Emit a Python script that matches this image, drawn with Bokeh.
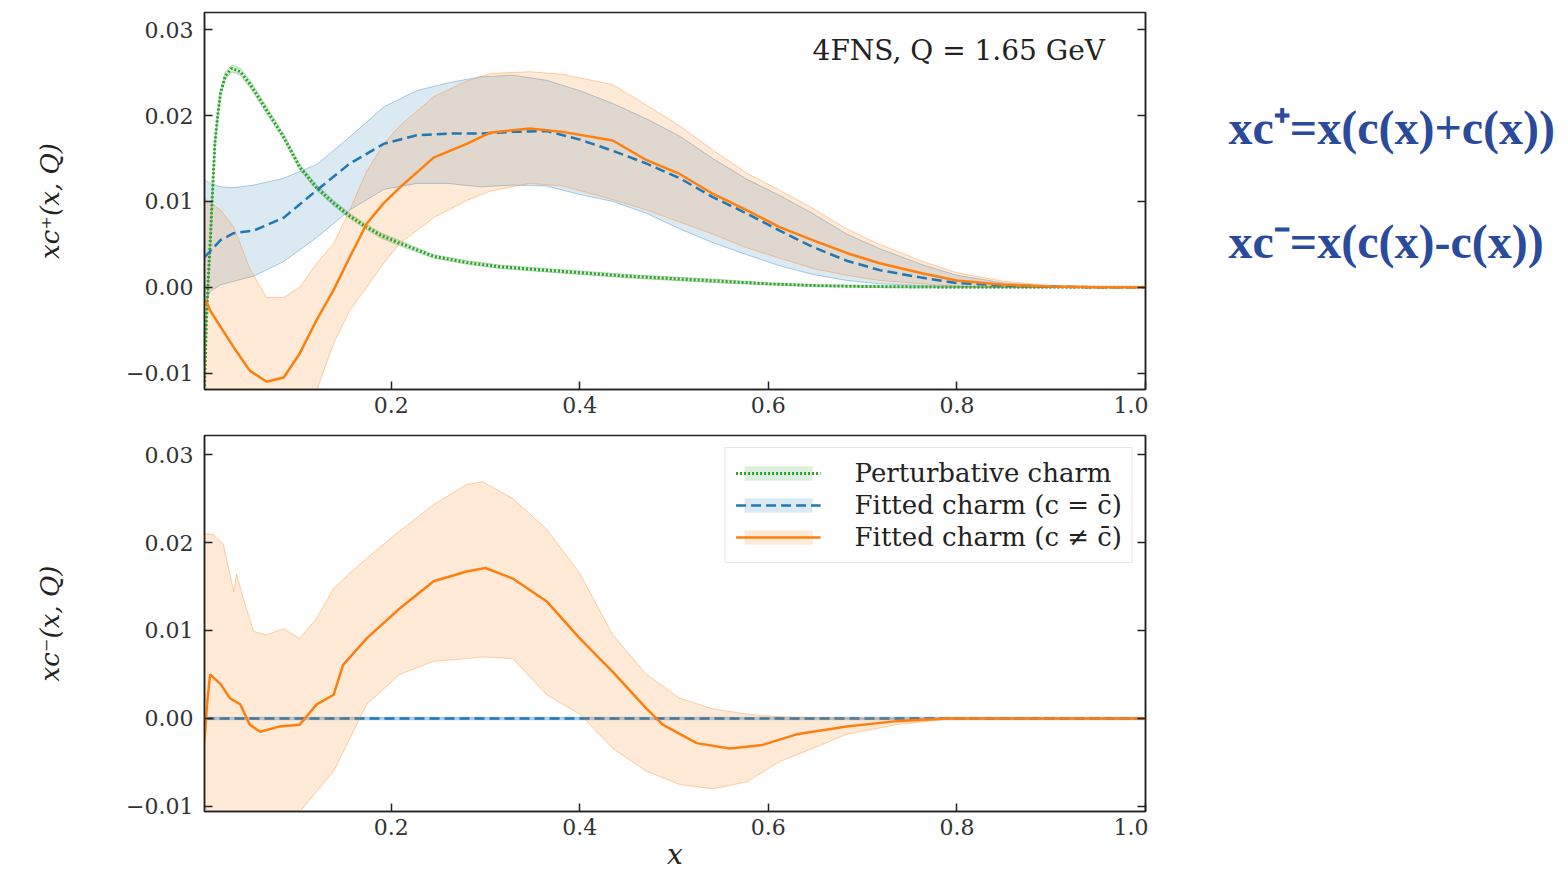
from bokeh.plotting import figure
from bokeh.models import (Range1d, LinearAxis, FixedTicker, CustomJSTickFormatter,
                          Legend, LegendItem, Label)
from bokeh.layouts import column, row
from bokeh.embed import file_html
from bokeh.resources import INLINE
from bokeh.core.properties import value

# ---------------- data ----------------
x_ticks = [0.2, 0.4, 0.6, 0.8, 1.0]
y_ticks = [-0.01, 0.0, 0.01, 0.02, 0.03]

# top panel: xc+(x,Q)
# perturbative charm
x_pc = [0.002, 0.004, 0.006, 0.008, 0.010, 0.013, 0.016, 0.019, 0.024, 0.031, 0.040, 0.050,
        0.060, 0.068, 0.086, 0.103, 0.121, 0.139, 0.156, 0.174, 0.19, 0.21, 0.245, 0.28,
        0.315, 0.35, 0.40, 0.45, 0.50, 0.55, 0.60, 0.65, 0.70, 0.75, 0.80, 0.90, 1.0]
pc_c = [-0.0115, -0.0040, 0.0010, 0.0050, 0.0100, 0.0167, 0.0200, 0.0226, 0.0246, 0.0255,
        0.0251, 0.0237, 0.0220, 0.0206, 0.0175, 0.0140, 0.0116, 0.0098, 0.0083, 0.0070,
        0.0060, 0.0051, 0.0036, 0.0029, 0.0024, 0.0021, 0.0017, 0.0013, 0.0010, 0.0007,
        0.0004, 0.0002, 0.0001, 0.00005, 0.0, 0.0, 0.0]
pc_err = [0.0004, 0.0004, 0.0004, 0.0004, 0.0004, 0.0004, 0.0004, 0.0004, 0.0004, 0.0004,
          0.0004, 0.0004, 0.0004, 0.0004, 0.0003, 0.0003, 0.0003, 0.0003, 0.0003, 0.0003,
          0.0003, 0.0003, 0.0002, 0.0002, 0.0002, 0.0002, 0.0002, 0.0002, 0.0002, 0.0002,
          0.0001, 0.0001, 0.0001, 0.0001, 0.0, 0.0, 0.0]

# fitted charm (c = cbar)
x_fc = [0.002, 0.008, 0.019, 0.033, 0.054, 0.086, 0.121, 0.156, 0.192, 0.227, 0.26, 0.294,
        0.329, 0.365, 0.40, 0.435, 0.471, 0.506, 0.541, 0.577, 0.612, 0.647, 0.683, 0.718,
        0.764, 0.80, 0.85, 0.90, 0.95, 1.0]
fc_c = [0.0035, 0.0042, 0.0055, 0.0063, 0.0066, 0.0081, 0.0113, 0.0144, 0.0167, 0.0177,
        0.0179, 0.0179, 0.0181, 0.0182, 0.0172, 0.0159, 0.0144, 0.0127, 0.0105, 0.0086,
        0.0066, 0.0047, 0.0031, 0.0020, 0.0011, 0.0005, 0.0002, 0.0001, 0.0, 0.0]
fc_hi = [0.0125, 0.0121, 0.0117, 0.0116, 0.0119, 0.0127, 0.0143, 0.0175, 0.0210, 0.0229,
         0.0238, 0.0245, 0.0247, 0.0241, 0.0229, 0.0214, 0.0196, 0.0176, 0.0150, 0.0126,
         0.0107, 0.0086, 0.0062, 0.0045, 0.0026, 0.0014, 0.0005, 0.0001, 0.0, 0.0]
fc_lo = [-0.0020, -0.0005, 0.0003, 0.0007, 0.0013, 0.0030, 0.0058, 0.0090, 0.0114, 0.0121,
         0.0121, 0.0117, 0.0119, 0.0118, 0.0108, 0.0100, 0.0086, 0.0068, 0.0052, 0.0038,
         0.0025, 0.0015, 0.0008, 0.0004, 0.0002, 0.0001, 0.0, 0.0, 0.0, 0.0]

# fitted charm (c != cbar)
x_fa = [0.002, 0.005, 0.008, 0.019, 0.033, 0.05, 0.068, 0.086, 0.103, 0.121, 0.139, 0.156,
        0.174, 0.192, 0.209, 0.245, 0.28, 0.305, 0.347, 0.382, 0.435, 0.471, 0.506, 0.541,
        0.577, 0.612, 0.647, 0.683, 0.718, 0.764, 0.80, 0.85, 0.90, 0.95, 1.0]
fa_c = [-0.0015, -0.0019, -0.0027, -0.0046, -0.0070, -0.0097, -0.0110, -0.0105, -0.0077,
        -0.0038, -0.0003, 0.0035, 0.0074, 0.0098, 0.0116, 0.0151, 0.0167, 0.0180, 0.0185,
        0.0181, 0.0171, 0.0148, 0.0132, 0.0109, 0.0090, 0.0070, 0.0055, 0.0040, 0.0028,
        0.0016, 0.0008, 0.0003, 0.0001, 0.0, 0.0]
fa_hi = [0.0105, 0.0100, 0.0099, 0.0090, 0.0070, 0.0022, -0.0012, -0.0012, 0.0000, 0.0028,
         0.0051, 0.0090, 0.0135, 0.0167, 0.0188, 0.0222, 0.0240, 0.0249, 0.0251, 0.0248,
         0.0236, 0.0212, 0.0188, 0.0160, 0.0133, 0.0113, 0.0092, 0.0068, 0.0050, 0.0030,
         0.0017, 0.0007, 0.0002, 0.0, 0.0]
fa_lo = [-0.02, -0.02, -0.02, -0.02, -0.02, -0.02, -0.02, -0.019, -0.016, -0.0120, -0.0065,
         -0.0027, 0.0000, 0.0028, 0.0051, 0.0081, 0.0101, 0.0112, 0.0121, 0.0118, 0.0102,
         0.0090, 0.0076, 0.0062, 0.0046, 0.0034, 0.0022, 0.0014, 0.0008, 0.0004, 0.0001,
         0.0, 0.0, 0.0, 0.0]

# bottom panel: xc-(x,Q)
x_zero = [0.002, 1.0]
zero_c = [0.0, 0.0]

x_fm = [0.002, 0.005, 0.008, 0.013, 0.019, 0.029, 0.040, 0.05, 0.061, 0.082, 0.103, 0.121,
        0.139, 0.149, 0.174, 0.209, 0.245, 0.28, 0.30, 0.329, 0.365, 0.40, 0.435, 0.471,
        0.488, 0.524, 0.559, 0.594, 0.63, 0.683, 0.736, 0.789, 0.85, 0.9, 1.0]
fm_c = [-0.0026, 0.0020, 0.0050, 0.0045, 0.0039, 0.0023, 0.0016, -0.0007, -0.0015, -0.0009,
        -0.0007, 0.0016, 0.0027, 0.0061, 0.0091, 0.0125, 0.0156, 0.0167, 0.0171, 0.0159,
        0.0133, 0.0091, 0.0053, 0.0011, -0.0007, -0.0028, -0.0034, -0.0030, -0.0018,
        -0.0009, -0.0003, 0.0, 0.0, 0.0, 0.0]
x_fmb = [0.002, 0.011, 0.022, 0.033, 0.036, 0.043, 0.054, 0.068, 0.086, 0.103, 0.121, 0.139,
         0.156, 0.174, 0.209, 0.245, 0.28, 0.297, 0.329, 0.365, 0.40, 0.435, 0.471, 0.506,
         0.541, 0.577, 0.612, 0.647, 0.683, 0.736, 0.789, 0.85, 1.0]
fm_hi = [0.0210, 0.0209, 0.0198, 0.0144, 0.0164, 0.0137, 0.0099, 0.0095, 0.0102, 0.0091,
         0.0114, 0.0148, 0.0165, 0.0182, 0.0213, 0.0243, 0.0266, 0.0269, 0.0250, 0.0215,
         0.0165, 0.0095, 0.0050, 0.0023, 0.0011, 0.0005, 0.0002, 0.0001, 0.0, 0.0, 0.0,
         0.0, 0.0]
fm_lo = [-0.02, -0.02, -0.02, -0.02, -0.02, -0.02, -0.02, -0.018, -0.015, -0.0106, -0.0083,
         -0.0060, -0.0023, 0.0016, 0.0050, 0.0065, 0.0068, 0.0070, 0.0068, 0.0027, 0.0005,
         -0.0034, -0.0060, -0.0075, -0.0080, -0.0072, -0.0049, -0.0034, -0.0018, -0.0007,
         -0.0001, 0.0, 0.0]

series_labels = ["Perturbative charm", "Fitted charm (c = c\u0304)", "Fitted charm (c \u2260 c\u0304)"]
panel_note = "4FNS, Q = 1.65 GeV"
eq_texts = ["xc\u207a=x(c(x)+c(x))", "xc\u207b=x(c(x)-c(x))"]

# ---------------- styling ----------------
SERIF = "DejaVu Serif"
GREEN, BLUE, ORANGE = "#2ca02c", "#1f77b4", "#ff7f0e"
AX = "#222222"


def make_fig(height, y0, y1, btop, bbottom, ylabel):
    p = figure(width=1148, height=height, x_range=Range1d(0.002, 1.0),
               y_range=Range1d(y0, y1), output_backend="svg", toolbar_location=None,
               min_border_left=204, min_border_right=3, min_border_top=btop,
               min_border_bottom=bbottom)
    p.xgrid.visible = False
    p.ygrid.visible = False
    p.outline_line_color = AX
    p.outline_line_width = 1.5
    p.background_fill_color = "white"
    for ax in (p.xaxis[0], p.yaxis[0]):
        ax.major_tick_in = 8
        ax.major_tick_out = 0
        ax.minor_tick_line_color = None
        ax.axis_line_color = AX
        ax.axis_line_width = 1.5
        ax.major_tick_line_color = AX
        ax.major_tick_line_width = 1.5
        ax.major_label_text_font = SERIF
        ax.major_label_text_font_size = "22px"
        ax.major_label_text_color = "#333333"
    p.xaxis.ticker = FixedTicker(ticks=x_ticks)
    p.xaxis.formatter = CustomJSTickFormatter(code="return tick.toFixed(1);")
    p.xaxis.major_label_standoff = 7
    p.yaxis.ticker = FixedTicker(ticks=y_ticks)
    p.yaxis.formatter = CustomJSTickFormatter(
        code="const v = Math.round(tick*100)/100; return (v < 0 ? '\u2212' : '') + Math.abs(v).toFixed(2);")
    p.yaxis.major_label_standoff = 11
    p.yaxis.axis_label = ylabel
    p.yaxis.axis_label_text_font = SERIF
    p.yaxis.axis_label_text_font_style = "italic"
    p.yaxis.axis_label_text_font_size = "26px"
    p.yaxis.axis_label_text_color = AX
    p.yaxis.axis_label_standoff = 58
    right = LinearAxis(ticker=FixedTicker(ticks=y_ticks),
                       formatter=CustomJSTickFormatter(code="return '';"),
                       major_label_text_font_size="0px", major_label_standoff=0,
                       major_tick_in=8, major_tick_out=0, minor_tick_line_color=None,
                       axis_line_color=AX, axis_line_width=1.5,
                       major_tick_line_color=AX, major_tick_line_width=1.5)
    p.add_layout(right, "right")
    return p


def band(p, x, lo, hi, color, edge_alpha=0.35, edge_width=1):
    r = p.varea(x=x, y1=lo, y2=hi, fill_color=color, fill_alpha=0.16)
    p.line(x, hi, line_color=color, line_alpha=edge_alpha, line_width=edge_width)
    p.line(x, lo, line_color=color, line_alpha=edge_alpha, line_width=edge_width)
    return r


# ---------------- top panel ----------------
top = make_fig(425, -0.0119, 0.0320, 12, 36, "xc\u207a(x, Q)")
pc_lo = [c - e for c, e in zip(pc_c, pc_err)]
pc_hi = [c + e for c, e in zip(pc_c, pc_err)]
band(top, x_pc, pc_lo, pc_hi, GREEN)
band(top, x_fc, fc_lo, fc_hi, BLUE)
band(top, x_fa, fa_lo, fa_hi, ORANGE)
top.line(x_pc, pc_c, line_color=GREEN, line_width=3, line_dash="2 2")
top.line(x_fc, fc_c, line_color=BLUE, line_width=2.5, line_dash="10 5")
top.line(x_fa, fa_c, line_color=ORANGE, line_width=2.5)
top.add_layout(Label(x=0.957, y=0.0276, text=panel_note, text_align="right",
                     text_baseline="middle", text_font=SERIF, text_font_size="28px",
                     text_color=AX))

# ---------------- bottom panel ----------------
bot = make_fig(448, -0.01057, 0.03216, 10, 62, "xc\u207b(x, Q)")
bot.xaxis.axis_label = "x"
bot.xaxis.axis_label_text_font = SERIF
bot.xaxis.axis_label_text_font_style = "italic"
bot.xaxis.axis_label_text_font_size = "28px"
bot.xaxis.axis_label_text_color = AX
bot.xaxis.axis_label_standoff = 0

g_band = band(bot, x_zero, zero_c, zero_c, GREEN)
g_line = bot.line(x_zero, zero_c, line_color=GREEN, line_width=3, line_dash="2 2")
b_band = band(bot, x_zero, zero_c, zero_c, BLUE)
bot.line(x_zero, zero_c, line_color="#aecde8", line_width=3.5)
b_line = bot.line(x_zero, zero_c, line_color=BLUE, line_width=2.5, line_dash="10 5")
o_band = band(bot, x_fmb, fm_lo, fm_hi, ORANGE)
o_line = bot.line(x_fm, fm_c, line_color=ORANGE, line_width=2.5)

legend = Legend(items=[LegendItem(label=series_labels[0], renderers=[g_band, g_line]),
                       LegendItem(label=series_labels[1], renderers=[b_band, b_line]),
                       LegendItem(label=series_labels[2], renderers=[o_band, o_line])],
                location="top_right", margin=12, padding=10, spacing=2,
                glyph_width=85, glyph_height=18, label_standoff=34,
                label_text_font=SERIF, label_text_font_size="26px",
                label_text_color=AX, border_line_color="#cccccc",
                border_line_width=1.5, background_fill_alpha=0.9)
bot.add_layout(legend)

# ---------------- right-hand formulas ----------------
side = figure(width=420, height=873, x_range=Range1d(1148, 1568), y_range=Range1d(873, 0),
              output_backend="svg", toolbar_location=None, min_border=0,
              x_axis_location=None, y_axis_location=None)
side.xgrid.visible = False
side.ygrid.visible = False
side.outline_line_color = None
side.text(x=[1228, 1228], y=[127, 241], text=eq_texts, text_font=value("Liberation Serif"),
          text_font_style="bold", text_font_size="48px", text_color="#2a4a9b",
          text_baseline="alphabetic", text_align="left")

layout = row(column(top, bot), side)
open("out.html", "w").write(file_html(layout, INLINE))
